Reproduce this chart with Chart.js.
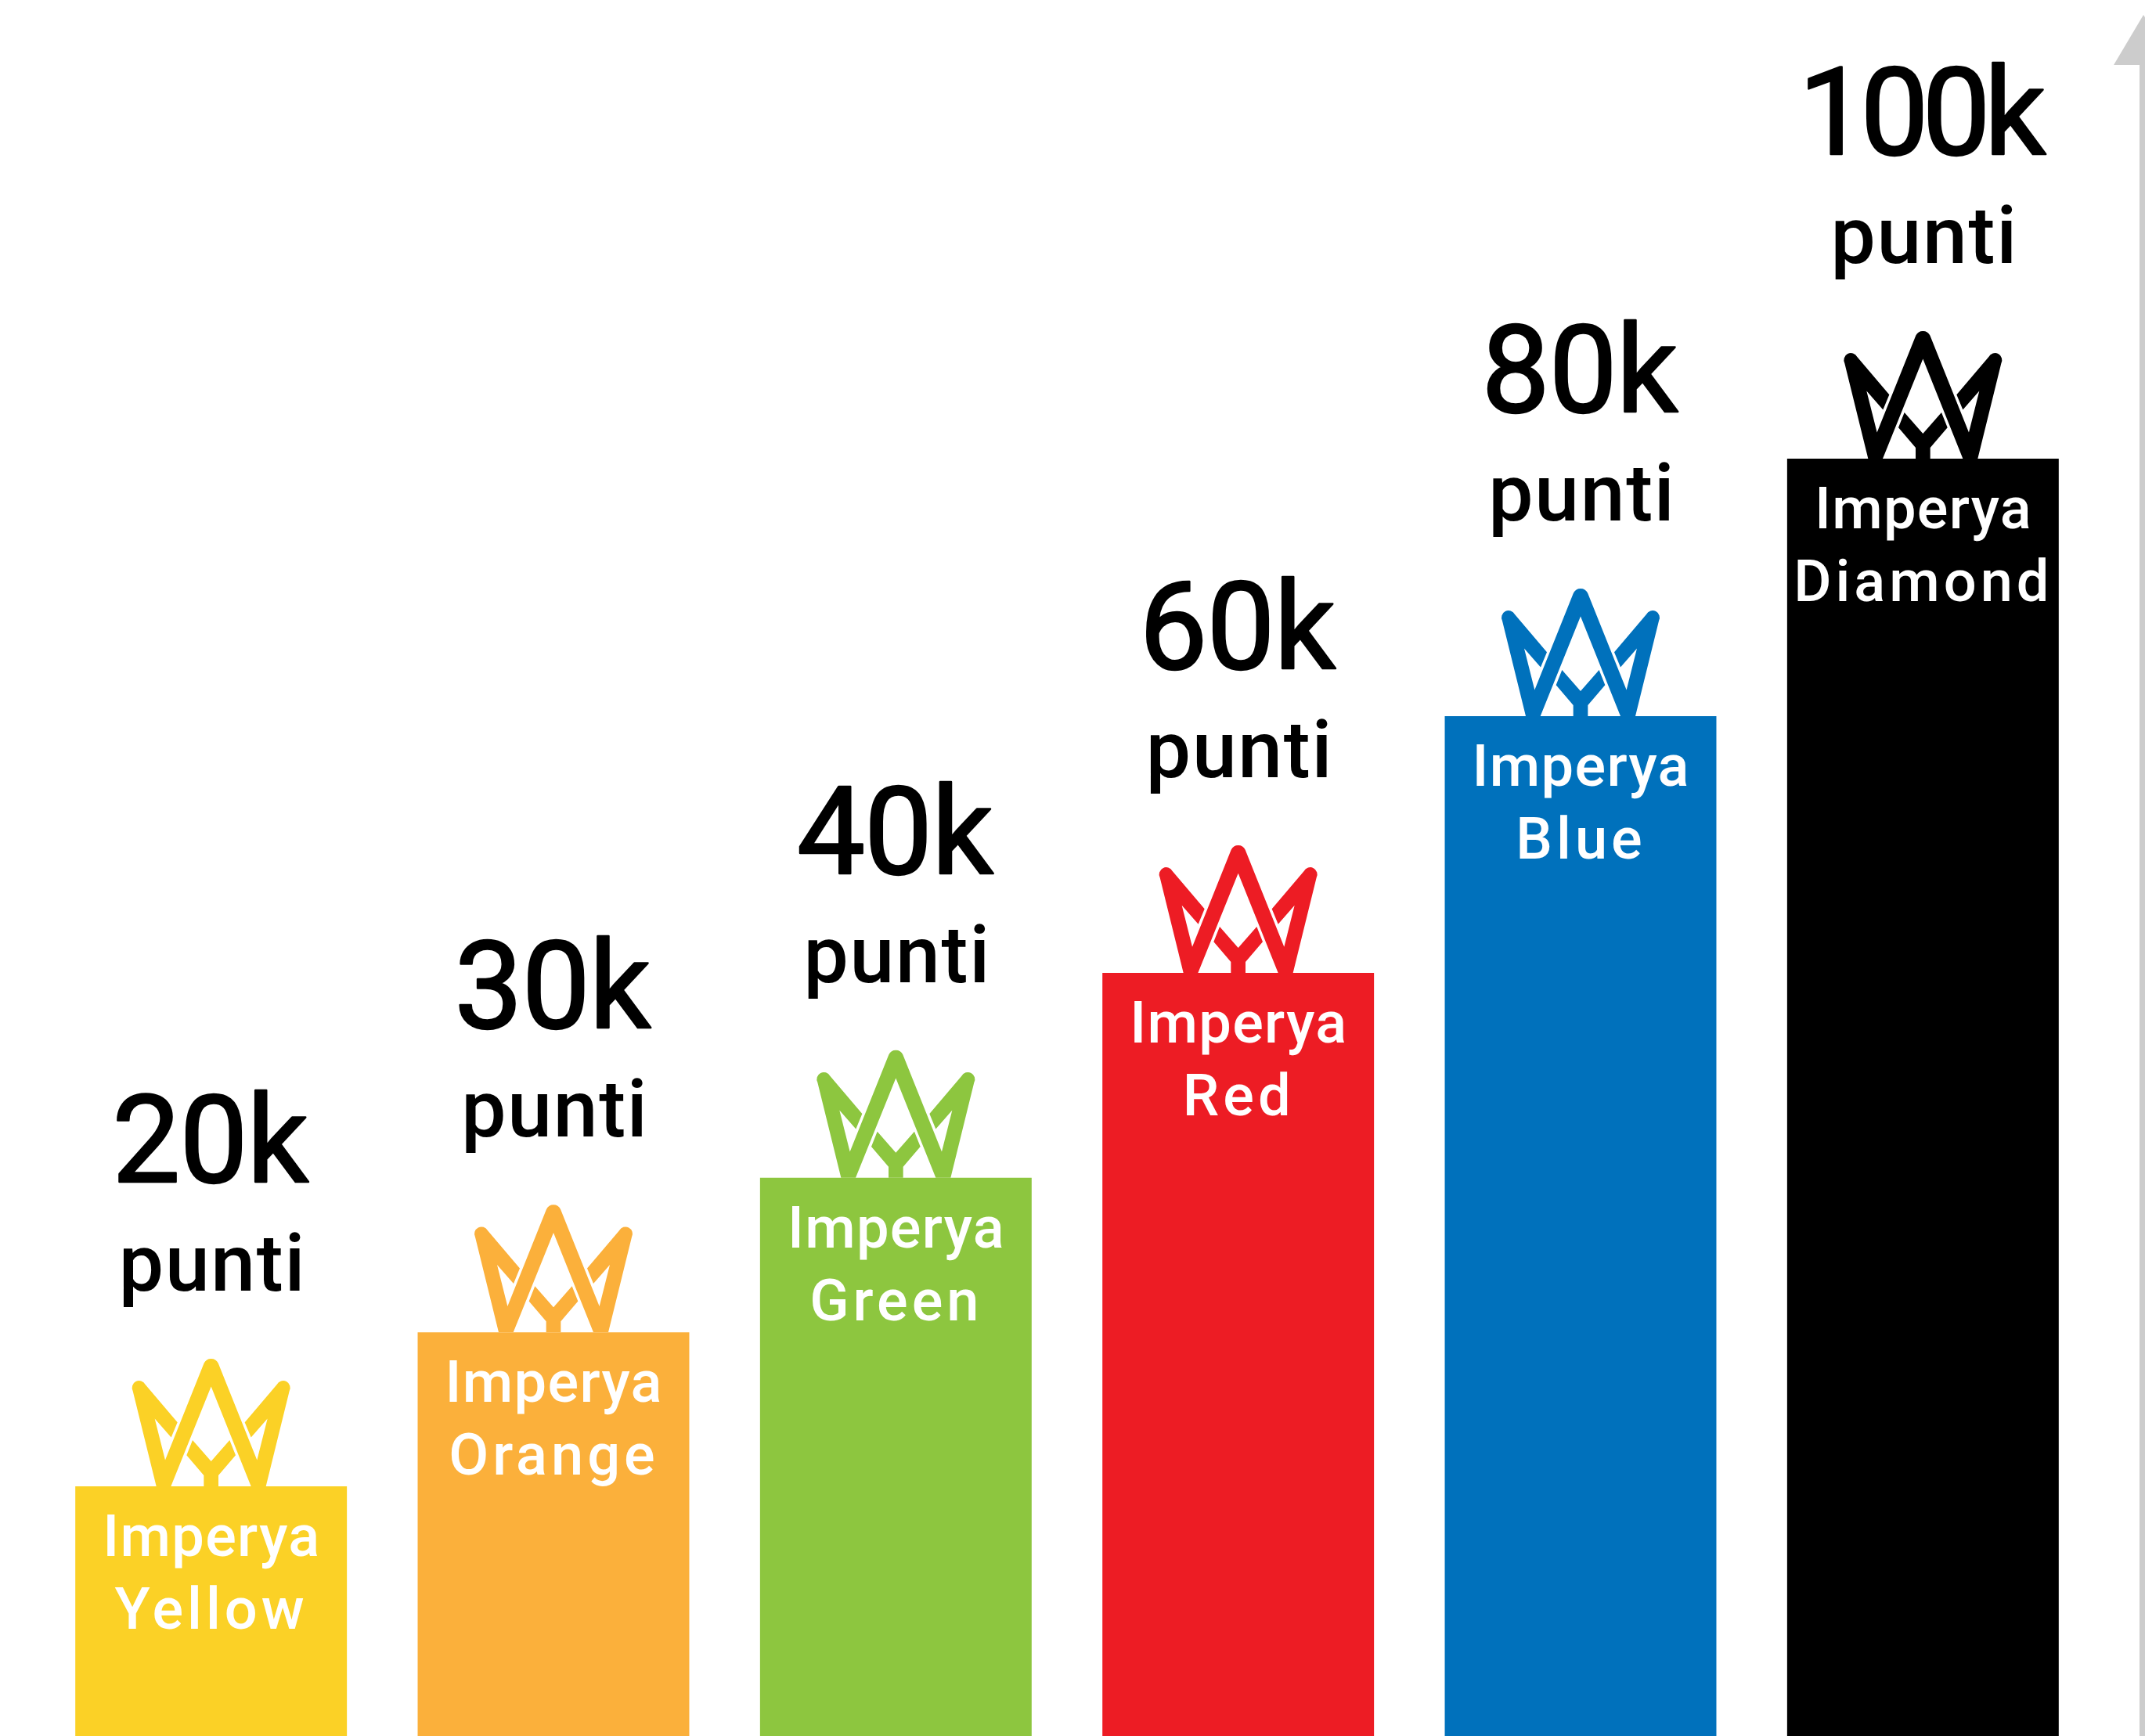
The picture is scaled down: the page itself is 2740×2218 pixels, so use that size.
<!DOCTYPE html>
<html>
<head>
<meta charset="utf-8">
<style>html,body{margin:0;padding:0;background:#fff}canvas{display:block}</style>
<script src="https://cdn.jsdelivr.net/npm/chart.js@4"></script>
</head>
<body>
<canvas id="c" width="2740" height="2218"></canvas>
<script>
const tiers = ["Yellow", "Orange", "Green", "Red", "Blue", "Diamond"];
const pointLabels = ["20k", "30k", "40k", "60k", "80k", "100k"];
const barHeights = [19.55, 31.6, 43.7, 59.74, 79.84, 100];
const barColors = ["#FBD126", "#FBB03B", "#8DC63F", "#ED1C24", "#0071BC", "#000000"];
const unitWord = "punti";
const brand = "Imperya";

const crownPath = new Path2D(
  "M-210 0L-300 -365A27 27 0 0 1 -252 -390L-129 -245L-153 -187L-216 -259L-176 -100L-27 -472A30 30 0 0 1 27 -472" +
  "L176 -100L216 -259L153 -187L129 -245L252 -390A27 27 0 0 1 300 -365L210 0L153 0L0 -382L-154 0Z" +
  "M-71 -177L0 -96L71 -177L94 -119L28 -42L28 0L-28 0L-28 -42L-94 -119Z");

function text(ctx, s, x, y, font, color, spacing, thicken) {
  ctx.font = font;
  ctx.fillStyle = color;
  ctx.letterSpacing = spacing + "px";
  ctx.textAlign = "center";
  ctx.textBaseline = "alphabetic";
  ctx.fillText(s, x + spacing / 2, y);
  if (thicken) {
    ctx.strokeStyle = color;
    ctx.lineWidth = thicken;
    ctx.lineJoin = "round";
    ctx.strokeText(s, x + spacing / 2, y);
  }
  ctx.letterSpacing = "0px";
}

const decorations = {
  id: "decorations",
  afterDatasetsDraw(chart) {
    const ctx = chart.ctx;
    const meta = chart.getDatasetMeta(0);
    meta.data.forEach((bar, i) => {
      const cx = bar.x, top = bar.y;
      ctx.save();
      ctx.translate(cx, top);
      ctx.scale(1 / 3, 1 / 3);
      ctx.fillStyle = barColors[i];
      ctx.fill(crownPath);
      ctx.restore();
      const bigSpacing = pointLabels[i].length > 3 ? -8 : -1;
      text(ctx, pointLabels[i], cx - 1, top - 389, "400 155px Roboto, sans-serif", "#000", bigSpacing, 2.5);
      text(ctx, unitWord, cx + 1, top - 250, "500 102px Roboto, sans-serif", "#000", 1.7);
      text(ctx, brand, cx, top + 89, "500 74px Roboto, sans-serif", "#fff", 1.3);
      text(ctx, tiers[i], cx - 2, top + 182, "500 74px Roboto, sans-serif", "#fff", 5);
    });
    // upward arrow at the right edge
    const ax = chart.width - 2;
    ctx.fillStyle = "#CCCCCC";
    ctx.fillRect(ax - 5, 83, 10, chart.height - 83);
    ctx.beginPath();
    ctx.moveTo(ax, 19);
    ctx.lineTo(ax - 38, 83);
    ctx.lineTo(ax + 38, 83);
    ctx.closePath();
    ctx.fill();
  }
};

new Chart(document.getElementById("c"), {
  type: "bar",
  data: {
    labels: tiers,
    datasets: [{ data: barHeights, backgroundColor: barColors, borderWidth: 0, categoryPercentage: 1, barPercentage: 347 / 437.4 }]
  },
  options: {
    responsive: false,
    devicePixelRatio: 1,
    animation: false,
    layout: { padding: { left: 51, right: 65, top: 0, bottom: 0 } },
    plugins: { legend: { display: false }, tooltip: { enabled: false } },
    scales: {
      x: { display: false },
      y: { display: false, min: 0, max: 135.9 }
    }
  },
  plugins: [decorations]
});
</script>
</body>
</html>
